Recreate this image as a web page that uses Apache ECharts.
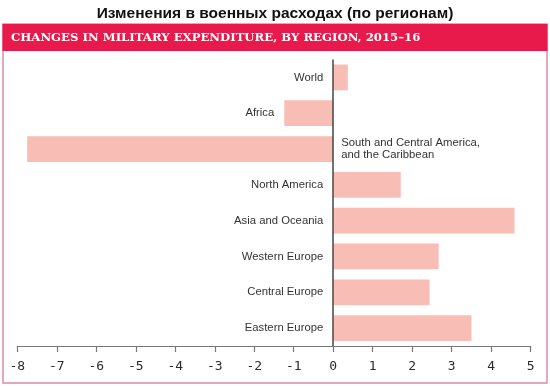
<!DOCTYPE html>
<html>
<head>
<meta charset="utf-8">
<script src="https://cdn.jsdelivr.net/npm/echarts@6/dist/echarts.min.js"></script>
<style>html,body{margin:0;padding:0;background:#fff}#c{width:550px;height:386px}</style>
</head>
<body>
<div id="c"></div>
<script>
const titleText = 'Изменения в военных расходах (по регионам)';
const headerText = 'CHANGES IN MILITARY EXPENDITURE, BY REGION, 2015–16';
const categories = ['World', 'Africa', 'South and Central America,\nand the Caribbean', 'North America', 'Asia and Oceania', 'Western Europe', 'Central Europe', 'Eastern Europe'];
const values = [0.37, -1.24, -7.75, 1.71, 4.59, 2.67, 2.44, 3.5];
const xTicks = { min: -8, max: 5, interval: 1 };
const rightLabelIndex = 2;

const labelFont = { fontFamily: 'Liberation Sans', fontSize: 11.3, color: '#333', lineHeight: 12.5 };
const seriesData = values.map((v, i) => ({
  value: v,
  label: Object.assign({
    show: true,
    position: i === rightLabelIndex ? 'right' : 'left',
    distance: i === rightLabelIndex ? 8 : 10,
    align: i === rightLabelIndex ? 'left' : 'right',
    formatter: () => categories[i]
  }, labelFont)
}));

const chart = echarts.init(document.getElementById('c'), null, { renderer: 'canvas' });
chart.setOption({
  animation: false,
  backgroundColor: '#fff',
  title: [{
    text: titleText, left: 'center', top: 1,
    textStyle: { fontFamily: 'Liberation Sans', fontSize: 15.5, fontWeight: 'bold', color: '#111' }
  }, {
    text: headerText, left: 11, top: 31.5, padding: 0,
    textStyle: { fontFamily: 'DejaVu Serif', fontSize: 11.7, fontWeight: 'bold', color: '#fff' }
  }],
  graphic: [
    { type: 'rect', shape: { x: 3, y: 24, width: 544, height: 359 }, style: { fill: '#fff', stroke: '#db8aa6', lineWidth: 1.5 }, z: -10 },
    { type: 'rect', shape: { x: 2.5, y: 24, width: 545, height: 27 }, style: { fill: '#e8194b' }, z: -9 }
  ],
  grid: { left: 17.3, right: 19.3, top: 59.5, bottom: 40, containLabel: false, outerBoundsMode: 'none' },
  xAxis: {
    type: 'value', min: xTicks.min, max: xTicks.max, interval: xTicks.interval,
    position: 'bottom',
    axisLine: { show: true, onZero: false, lineStyle: { color: '#777', width: 1.2 } },
    axisTick: { show: true, length: 6, lineStyle: { color: '#777', width: 1.2 } },
    splitLine: { show: false },
    axisLabel: { fontFamily: 'DejaVu Sans Mono', fontSize: 13, color: '#2a2a2a', margin: 14 }
  },
  yAxis: {
    type: 'category', inverse: true, data: categories,
    axisLine: { show: false, onZero: false },
    axisTick: { show: false },
    axisLabel: { show: false },
    splitLine: { show: false }
  },
  series: [{
    type: 'bar', data: seriesData, barCategoryGap: '28%',
    itemStyle: { color: '#f8beb5' },
    markLine: {
      silent: true, symbol: 'none', z: 10,
      label: { show: false },
      lineStyle: { color: '#444', width: 1.5, type: 'solid' },
      data: [{ xAxis: 0 }]
    }
  }]
});
</script>
</body>
</html>
